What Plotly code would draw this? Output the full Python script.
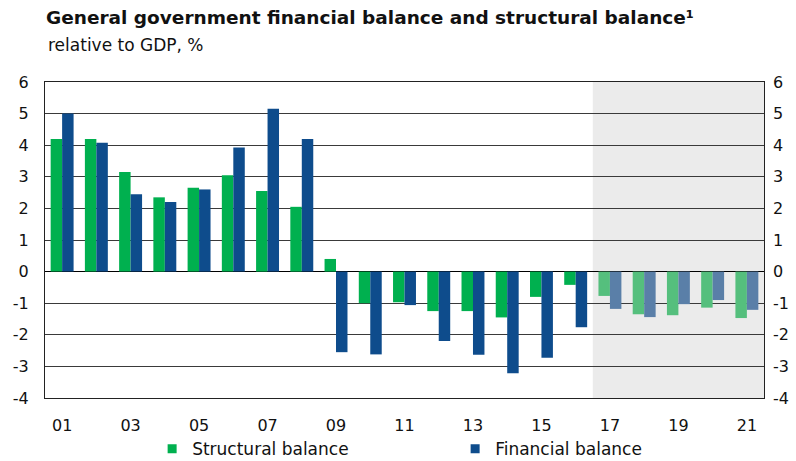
import plotly.graph_objects as go

# General government balances, % of GDP (2017 onwards are forecasts)
years = list(range(2001, 2022))
structural = [4.2, 4.2, 3.15, 2.35, 2.65, 3.05, 2.55, 2.05, 0.4, -1.0, -0.97,
              -1.25, -1.25, -1.45, -0.8, -0.42, -0.77, -1.35, -1.38, -1.14, -1.47]
financial = [5.0, 4.08, 2.45, 2.2, 2.6, 3.93, 5.15, 4.2, -2.55, -2.62, -1.06,
             -2.2, -2.63, -3.22, -2.73, -1.76, -1.18, -1.44, -1.03, -0.9, -1.21]
forecast_start = 2017

series_names = ["Structural balance", "Financial balance"]
tick_years = years[::2]
tick_labels = [f"{y % 100:02d}" for y in tick_years]
y_ticks = list(range(-4, 7))
y_labels = [str(v) for v in y_ticks]

GREEN, GREEN_FC = "#00b04f", "#55bf7d"
BLUE, BLUE_FC = "#0e4c8c", "#5a7fa8"
FONT = "DejaVu Sans, Arial, sans-serif"


def shade(base, fc):
    return [fc if y >= forecast_start else base for y in years]


fig = go.Figure()
fig.add_bar(x=years, y=structural, marker=dict(color=shade(GREEN, GREEN_FC), line_width=0),
            showlegend=False, name=series_names[0])
fig.add_bar(x=years, y=financial, marker=dict(color=shade(BLUE, BLUE_FC), line_width=0),
            showlegend=False, name=series_names[1])

# legend entries with small square swatches
for nm, col in zip(series_names, [GREEN, BLUE]):
    fig.add_scatter(x=[None], y=[None], mode="markers", name=nm,
                    marker=dict(symbol="square", size=9, color=col))

# carrier trace for the right-hand axis
fig.add_scatter(x=[years[0]], y=[0], yaxis="y2", mode="markers",
                marker=dict(opacity=0), showlegend=False, hoverinfo="skip")

# forecast period background
fig.add_shape(type="rect", xref="x", yref="paper", x0=forecast_start - 0.5, x1=years[-1] + 0.5,
              y0=0, y1=1, fillcolor="#ebebeb", line_width=0, layer="below")

axis_font = dict(family=FONT, size=16, color="#111")
fig.update_layout(
    width=796, height=461,
    margin=dict(l=45, r=32, t=82, b=63, autoexpand=False),
    paper_bgcolor="white", plot_bgcolor="white",
    barmode="group", bargap=0.33, bargroupgap=0,
    font=dict(family=FONT, color="#111"),
    xaxis=dict(range=[years[0] - 0.5, years[-1] + 0.5], tickvals=tick_years, ticktext=tick_labels,
               tickfont=axis_font, showgrid=False, showline=True, linecolor="#222",
               linewidth=1, mirror=True, ticks="", ticklabelstandoff=13, zeroline=False,
               automargin=False),
    yaxis=dict(range=[-4, 6], tickvals=y_ticks, ticktext=y_labels, tickfont=axis_font,
               showgrid=True, gridcolor="#3a3a3a", gridwidth=1, zeroline=True,
               zerolinecolor="#000", zerolinewidth=1, showline=True, linecolor="#222",
               linewidth=1, mirror=True, ticks="", ticklabelstandoff=12, automargin=False),
    yaxis2=dict(range=[-4, 6], tickvals=y_ticks, ticktext=y_labels, tickfont=axis_font,
                overlaying="y", side="right", showgrid=False, zeroline=False, showline=False,
                ticks="", ticklabelstandoff=8, automargin=False),
    legend=dict(orientation="h", x=0.149, xanchor="left", y=-0.219, yanchor="bottom",
                font=dict(family=FONT, size=17, color="#111"), entrywidth=258,
                entrywidthmode="pixels", itemwidth=30, bgcolor="rgba(0,0,0,0)",
                tracegroupgap=0),
    annotations=[
        dict(text="<b>General government financial balance and structural balance¹</b>",
             xref="paper", yref="paper", x=-0.002, y=1.204, xanchor="left", yanchor="middle",
             showarrow=False, font=dict(family=FONT, size=18.5, color="#111")),
        dict(text="relative to GDP, %", xref="paper", yref="paper", x=0.002, y=1.116,
             xanchor="left", yanchor="middle", showarrow=False,
             font=dict(family=FONT, size=17, color="#111")),
    ],
)

fig.write_html("out.html")
